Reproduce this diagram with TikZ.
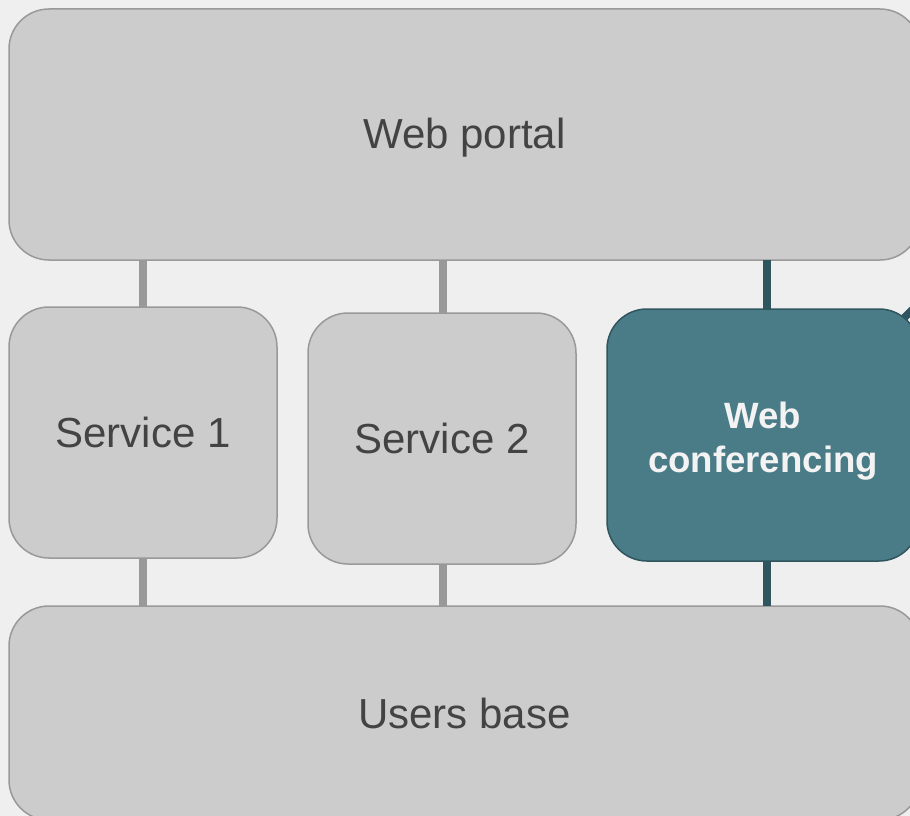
\documentclass[tikz,border=0pt]{standalone}
\usepackage{fontspec}
\setmainfont{Liberation Sans}
\definecolor{bgc}{HTML}{EFEFEF}
\definecolor{boxfill}{HTML}{CCCCCC}
\definecolor{boxline}{HTML}{999999}
\definecolor{txtgray}{HTML}{434343}
\definecolor{tealfill}{HTML}{4A7C88}
\definecolor{tealline}{HTML}{2F555E}
\definecolor{txtlight}{HTML}{F3F3F3}
\begin{document}
\begin{tikzpicture}[x=1pt,y=-1pt,
  graybox/.style={draw=boxline, fill=boxfill, line width=1.5pt, rounded corners=40pt,
    inner sep=0pt, outer sep=0pt, text=txtgray, font=\fontsize{42}{50}\selectfont},
  tealbox/.style={draw=tealline, fill=tealfill, line width=1.5pt, rounded corners=40pt,
    inner sep=0pt, outer sep=0pt, text=txtlight, align=center,
    font=\fontsize{36.6}{44}\selectfont\bfseries},
  lbl/.style={inner sep=0pt},
  conn/.style={draw=boxline, line width=7.5pt},
  tconn/.style={draw=tealline, line width=7.5pt}]
\fill[bgc] (0,0) rectangle (910,816);
\useasboundingbox (0,0) rectangle (910,816);
\clip (0,0) rectangle (910,816);
\coordinate (c1) at (143,0);
\coordinate (c2) at (443,0);
\coordinate (c3) at (767,0);
\coordinate (wcne) at (902,320);
\coordinate (offr) at (935,287);
\draw[tconn] (wcne) -- (offr);
\node[graybox, minimum width=911pt, minimum height=251pt] (portal) at (464.5,134.5) {};
\node[lbl, text=txtgray, font=\fontsize{42}{50}\selectfont] (portalt) at (464.5,138) {Web portal};
\node[graybox, minimum width=268pt, minimum height=251pt] (s1) at (143,432.5) {Service 1};
\node[graybox, minimum width=268pt, minimum height=251pt] (s2) at (442,438.5) {Service 2};
\node[tealbox, minimum width=312pt, minimum height=252pt] (wc) at (763,435) {};
\node[lbl, text=txtlight, align=center, font=\fontsize{36.6}{44}\selectfont\bfseries] (wct) at (763,441) {Web\\conferencing};
\node[graybox, minimum width=911pt, minimum height=214pt] (users) at (464.5,713) {Users base};
\draw[conn] (portal.south -| c1) -- (s1.north -| c1);
\draw[conn] (portal.south -| c2) -- (s2.north -| c2);
\draw[tconn] (portal.south -| c3) -- (wc.north -| c3);
\draw[conn] (s1.south -| c1) -- (users.north -| c1);
\draw[conn] (s2.south -| c2) -- (users.north -| c2);
\draw[tconn] (wc.south -| c3) -- (users.north -| c3);
\end{tikzpicture}
\end{document}
